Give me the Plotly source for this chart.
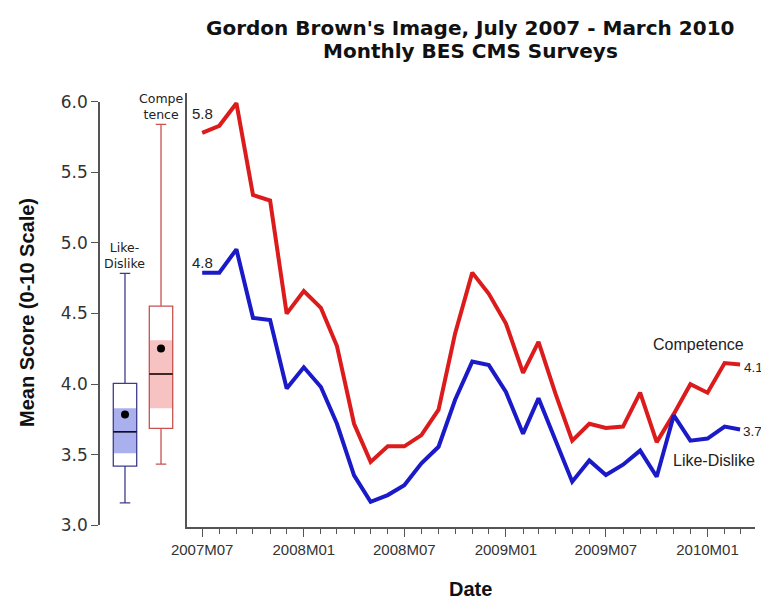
import plotly.graph_objects as go

# ---------------- data ----------------
months = ["2007-07-01", "2007-08-01", "2007-09-01", "2007-10-01", "2007-11-01", "2007-12-01",
          "2008-01-01", "2008-02-01", "2008-03-01", "2008-04-01", "2008-05-01", "2008-06-01",
          "2008-07-01", "2008-08-01", "2008-09-01", "2008-10-01", "2008-11-01", "2008-12-01",
          "2009-01-01", "2009-02-01", "2009-03-01", "2009-04-01", "2009-05-01", "2009-06-01",
          "2009-07-01", "2009-08-01", "2009-09-01", "2009-10-01", "2009-11-01", "2009-12-01",
          "2010-01-01", "2010-02-01", "2010-03-01"]

competence = [5.78, 5.83, 5.99, 5.34, 5.30, 4.50, 4.66, 4.54, 4.27, 3.72, 3.45, 3.56,
              3.56, 3.64, 3.82, 4.36, 4.79, 4.64, 4.43, 4.08, 4.30, 3.93, 3.60, 3.72,
              3.69, 3.70, 3.94, 3.59, 3.79, 4.00, 3.94, 4.15, 4.14]

like_dislike = [4.79, 4.79, 4.955, 4.47, 4.455, 3.97, 4.12, 3.98, 3.72, 3.355, 3.167, 3.215,
                3.285, 3.44, 3.557, 3.89, 4.16, 4.135, 3.945, 3.65, 3.90, 3.60, 3.31, 3.46,
                3.357, 3.43, 3.53, 3.345, 3.78, 3.60, 3.615, 3.70, 3.68]

box_labels = ["Like-<br>Dislike", "Compe<br>tence"]
box_q1 = [3.42, 3.687]
box_median = [3.663, 4.072]
box_q3 = [4.005, 4.553]
box_lowerfence = [3.16, 3.434]
box_upperfence = [4.785, 5.84]
box_mean = [3.786, 4.253]
band_low = [3.51, 3.829]
band_high = [3.83, 4.31]

y_ticks = [3.0, 3.5, 4.0, 4.5, 5.0, 5.5, 6.0]
x_tick_dates = ["2007-07-01", "2008-01-01", "2008-07-01", "2009-01-01", "2009-07-01", "2010-01-01"]
x_tick_labels = ["2007M07", "2008M01", "2008M07", "2009M01", "2009M07", "2010M01"]

# ---------------- styles ----------------
RED = "#dc1c1c"
BLUE = "#1a1ac8"
BOX_LINE = ["#3c3c8c", "#c85050"]
BAND = ["#aab0ee", "#f7c2c2"]
AXIS = "#555555"
TXT = "#222222"
box_pos = [0, 1]
box_w = 0.65

fig = go.Figure()

for k in range(2):
    fig.add_trace(go.Bar(x=[box_pos[k]], y=[band_high[k] - band_low[k]], base=[band_low[k]],
                         width=box_w, marker=dict(color=BAND[k], line=dict(width=0)),
                         xaxis="x", yaxis="y", hoverinfo="skip"))
    fig.add_trace(go.Box(x=[box_pos[k]], q1=[box_q1[k]], median=[box_median[k]], q3=[box_q3[k]],
                         lowerfence=[box_lowerfence[k]], upperfence=[box_upperfence[k]],
                         width=box_w, whiskerwidth=0.45, fillcolor="rgba(0,0,0,0)",
                         line=dict(color=BOX_LINE[k], width=1.3), boxpoints=False,
                         xaxis="x", yaxis="y"))
    fig.add_trace(go.Scatter(x=[box_pos[k] - box_w / 2, box_pos[k] + box_w / 2],
                             y=[box_median[k], box_median[k]], mode="lines",
                             line=dict(color="#111111", width=1.5), xaxis="x", yaxis="y"))
    fig.add_trace(go.Scatter(x=[box_pos[k]], y=[box_mean[k]], mode="markers",
                             marker=dict(color="black", size=8), xaxis="x", yaxis="y"))
    fig.add_annotation(x=box_pos[k], y=box_upperfence[k], xref="x", yref="y",
                       text=box_labels[k], showarrow=False, xanchor="center", yanchor="bottom",
                       yshift=0, font=dict(family="DejaVu Sans", size=12.5, color=TXT))

fig.add_trace(go.Scatter(x=months, y=competence, mode="lines", line=dict(color=RED, width=4),
                         xaxis="x2", yaxis="y2", name="Competence"))
fig.add_trace(go.Scatter(x=months, y=like_dislike, mode="lines", line=dict(color=BLUE, width=4),
                         xaxis="x2", yaxis="y2", name="Like-Dislike"))

lab_font = dict(family="Liberation Sans", size=15, color=TXT)
end_font = dict(family="Liberation Sans", size=13.5, color=TXT)
fig.add_annotation(x=months[0], y=competence[0], xref="x2", yref="y2", text=f"{competence[0]:.1f}",
                   showarrow=False, xanchor="center", yanchor="middle", yshift=19, font=lab_font)
fig.add_annotation(x=months[0], y=like_dislike[0], xref="x2", yref="y2", text=f"{like_dislike[0]:.1f}",
                   showarrow=False, xanchor="center", yanchor="middle", yshift=10, font=lab_font)
fig.add_annotation(x=months[-1], y=competence[-1], xref="x2", yref="y2", text=f"{competence[-1]:.1f}",
                   showarrow=False, xanchor="left", yanchor="middle", xshift=2, yshift=-3, font=end_font)
fig.add_annotation(x=months[-1], y=like_dislike[-1], xref="x2", yref="y2", text=f"{like_dislike[-1]:.1f}",
                   showarrow=False, xanchor="left", yanchor="middle", xshift=1, yshift=-2, font=end_font)
fig.add_annotation(x="2009-12-16", y=4.28, xref="x2", yref="y2", text="Competence",
                   showarrow=False, xanchor="center", yanchor="middle",
                   font=dict(family="Liberation Sans", size=16, color=TXT))
fig.add_annotation(x="2010-01-13", y=3.46, xref="x2", yref="y2", text="Like-Dislike",
                   showarrow=False, xanchor="center", yanchor="middle",
                   font=dict(family="Liberation Sans", size=16, color=TXT))

# titles
title_font = dict(family="DejaVu Sans", size=20, color="#111111", weight="bold")
fig.add_annotation(x=0.565, y=1.1498, xref="paper", yref="paper",
                   text="Gordon Brown's Image, July 2007 - March 2010", showarrow=False,
                   xanchor="center", yanchor="middle", font=title_font)
fig.add_annotation(x=0.565, y=1.0968, xref="paper", yref="paper",
                   text="Monthly BES CMS Surveys", showarrow=False,
                   xanchor="center", yanchor="middle", font=title_font)
fig.add_annotation(x=0.565, y=-0.1429, xref="paper", yref="paper", text="Date", showarrow=False,
                   xanchor="center", yanchor="middle",
                   font=dict(family="Liberation Sans", size=20, color="#111111", weight="bold"))
fig.add_annotation(x=-0.1115, y=0.4954, xref="paper", yref="paper", text="Mean Score (0-10 Scale)",
                   showarrow=False, textangle=-90, xanchor="center", yanchor="middle",
                   font=dict(family="Liberation Sans", size=20, color="#111111", weight="bold"))

# the page places the figure 8px in from the top-left corner, so the canvas is 8px smaller
fig.update_layout(
    width=761, height=595,
    margin=dict(l=92, r=14, t=85, b=76),
    paper_bgcolor="white", plot_bgcolor="white",
    showlegend=False, barmode="overlay",
    xaxis=dict(domain=[0, 0.1324], range=[-0.694, 1.714], visible=False, anchor="y",
               fixedrange=True),
    yaxis=dict(domain=[0.0037, 0.980], range=[3, 6], anchor="x", showline=True, linecolor=AXIS,
               linewidth=1.5, ticks="outside", ticklen=7, tickcolor=AXIS, tickwidth=1.2,
               tickvals=y_ticks, tickformat=".1f", showgrid=False, zeroline=False,
               tickfont=dict(family="DejaVu Sans", size=17, color="#333333")),
    xaxis2=dict(domain=[0.1324, 1], anchor="y2", type="date", range=["2007-06-03", "2010-03-28"],
                showline=True, linecolor=AXIS, linewidth=1.5, ticks="outside", ticklen=8,
                tickcolor=AXIS, tickwidth=1.2, tickvals=x_tick_dates, ticktext=x_tick_labels,
                showgrid=False, zeroline=False,
                minor=dict(ticks="outside", ticklen=5, tickcolor=AXIS, tickwidth=1.2,
                           dtick="M1", tick0="2007-07-01", showgrid=False),
                tickfont=dict(family="Liberation Sans", size=15, color="#333333")),
    yaxis2=dict(domain=[0, 1], anchor="x2", range=[2.989, 6.062], showline=True, linecolor=AXIS,
                linewidth=1.5, ticks="", showticklabels=False, showgrid=False, zeroline=False),
)

fig.write_html("out.html")
